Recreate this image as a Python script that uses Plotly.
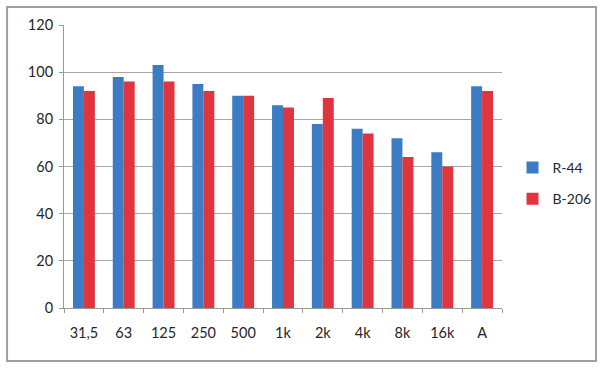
import plotly.graph_objects as go

categories = ["31,5", "63", "125", "250", "500", "1k", "2k", "4k", "8k", "16k", "A"]
r44 = [94, 98, 103, 95, 90, 86, 78, 76, 72, 66, 94]
b206 = [92, 96, 96, 92, 90, 85, 89, 74, 64, 60, 92]
y_ticks = [0, 20, 40, 60, 80, 100, 120]

fig = go.Figure()
fig.add_bar(x=categories, y=r44, name="R-44", marker_color="#3b7cc4",
            marker_line_width=0, legendgroup="a")
fig.add_bar(x=categories, y=b206, name="B-206", marker_color="#e0343f",
            marker_line_width=0, legendgroup="b")

font = dict(family="Lato, Open Sans, sans-serif", size=14.5, color="#262626")
legend_font = dict(family="Lato, Open Sans, sans-serif", size=14, color="#262626")
fig.update_layout(
    width=603, height=370,
    margin=dict(l=64, r=101, t=25, b=62, autoexpand=False),
    paper_bgcolor="white", plot_bgcolor="white",
    barmode="group", bargap=0.45, bargroupgap=0,
    font=font,
    showlegend=True,
    legend=dict(x=1.024, y=0.44, xanchor="left", yanchor="middle",
                font=legend_font, tracegroupgap=10, itemwidth=30,
                bgcolor="rgba(0,0,0,0)"),
    xaxis=dict(type="category", showline=True, linecolor="#9a9a9a", linewidth=1,
               ticks="outside", ticklen=4, tickcolor="#9a9a9a", tickson="boundaries",
               showgrid=False, tickfont=font, ticklabelstandoff=12),
    yaxis=dict(range=[0, 120], tickvals=y_ticks, showline=True, linecolor="#9a9a9a",
               linewidth=1, ticks="outside", ticklen=4, tickcolor="#9a9a9a",
               gridcolor="#a8a8a8", gridwidth=1, zeroline=False, tickfont=font,
               ticklabelstandoff=3),
    shapes=[dict(type="rect", xref="paper", yref="paper",
                 x0=-0.130, x1=1.2146, y0=-0.187, y1=1.0636,
                 line=dict(color="#a0a0a0", width=2), layer="below")],
)
fig.write_html("out.html", config={"displayModeBar": False},
               post_script="document.body.style.margin='0';")
